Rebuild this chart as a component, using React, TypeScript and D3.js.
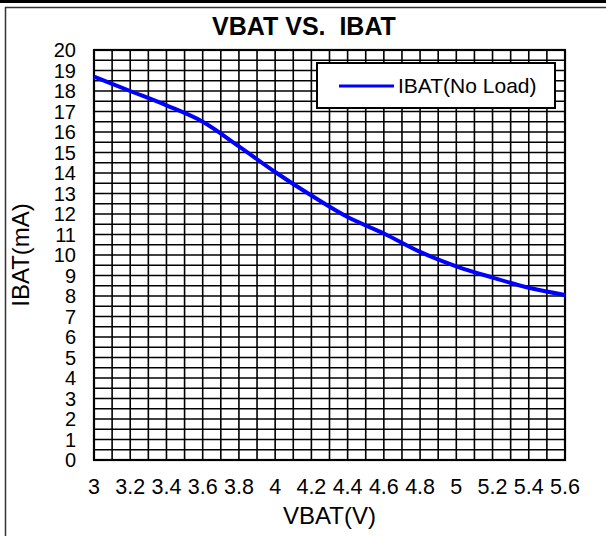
import React, { useRef, useEffect } from 'react';
import * as d3 from 'd3';

// VBAT (V) sample points
const vbat = [3.0, 3.2, 3.4, 3.6, 3.8, 4.0, 4.2, 4.4, 4.6, 4.8, 5.0, 5.2, 5.4, 5.6];
// IBAT (mA), no load
const ibat = [18.7, 18.0, 17.3, 16.5, 15.3, 14.05, 12.9, 11.85, 11.05, 10.15, 9.45, 8.9, 8.4, 8.05];

const xTickLabels = [3, 3.2, 3.4, 3.6, 3.8, 4, 4.2, 4.4, 4.6, 4.8, 5, 5.2, 5.4, 5.6];
const yTickLabels = [0, 1, 2, 3, 4, 5, 6, 7, 8, 9, 10, 11, 12, 13, 14, 15, 16, 17, 18, 19, 20];

const seriesName = "IBAT(No Load)";
const FONT = "'Liberation Sans', Arial, sans-serif";

const App: React.FC = () => {
  const svgRef = useRef<SVGSVGElement>(null);

  useEffect(() => {
    const svg = d3.select(svgRef.current);
    svg.selectAll("*").remove();

    const W = 606, H = 536;
    const plot = { left: 94, right: 565, top: 50, bottom: 460 };

    svg.append("rect").attr("width", W).attr("height", H).attr("fill", "white");

    // outer frame
    svg.append("rect").attr("x", 0).attr("y", 0).attr("width", W).attr("height", 3).attr("fill", "#000");
    svg.append("line").attr("x1", 5).attr("x2", W).attr("y1", 7.5).attr("y2", 7.5)
      .attr("stroke", "#333").attr("stroke-width", 1.5);
    svg.append("line").attr("x1", 5.5).attr("x2", 5.5).attr("y1", 7).attr("y2", H)
      .attr("stroke", "#333").attr("stroke-width", 1.5);

    const x = d3.scaleLinear().domain([3, 5.6]).range([plot.left, plot.right]);
    const y = d3.scaleLinear().domain([0, 20]).range([plot.bottom, plot.top]);

    // grid
    const grid = svg.append("g");
    grid.selectAll(".vg")
      .data(x.ticks(26))
      .enter().append("line")
      .attr("x1", d => x(d)).attr("x2", d => x(d))
      .attr("y1", plot.top).attr("y2", plot.bottom)
      .attr("stroke", "#000").attr("stroke-width", 1.6);
    grid.selectAll(".hg")
      .data(y.ticks(40))
      .enter().append("line")
      .attr("x1", plot.left).attr("x2", plot.right)
      .attr("y1", d => y(d)).attr("y2", d => y(d))
      .attr("stroke", "#000").attr("stroke-width", 1.6);

    // plot border
    svg.append("rect")
      .attr("x", plot.left).attr("y", plot.top)
      .attr("width", plot.right - plot.left).attr("height", plot.bottom - plot.top)
      .attr("fill", "none").attr("stroke", "#000").attr("stroke-width", 2.2);

    // tick labels
    svg.append("g").selectAll("text")
      .data(yTickLabels)
      .enter().append("text")
      .attr("x", 76)
      .attr("y", d => y(d))
      .attr("dy", "0.35em")
      .attr("text-anchor", "end")
      .style("font-family", FONT)
      .style("font-size", "20px")
      .style("fill", "#000")
      .text(d => d);

    svg.append("g").selectAll("text")
      .data(xTickLabels)
      .enter().append("text")
      .attr("x", d => x(d))
      .attr("y", 494)
      .attr("text-anchor", "middle")
      .style("font-family", FONT)
      .style("font-size", "21.5px")
      .style("fill", "#000")
      .text(d => d);

    // series
    const pts = vbat.map((v, i) => [v, ibat[i]] as [number, number]);
    const line = d3.line<[number, number]>()
      .x(d => x(d[0]))
      .y(d => y(d[1]))
      .curve(d3.curveMonotoneX);

    svg.append("path")
      .datum(pts)
      .attr("fill", "none")
      .attr("stroke", "#0000FF")
      .attr("stroke-width", 4)
      .attr("stroke-linejoin", "round")
      .attr("d", line);

    // legend
    const legend = svg.append("g").attr("transform", "translate(317,63)");
    legend.append("rect")
      .attr("width", 238).attr("height", 45)
      .attr("fill", "white").attr("stroke", "#000").attr("stroke-width", 2);
    legend.append("line")
      .attr("x1", 22).attr("x2", 77).attr("y1", 23).attr("y2", 23)
      .attr("stroke", "#0000FF").attr("stroke-width", 3);
    legend.append("text")
      .attr("x", 81).attr("y", 23).attr("dy", "0.35em")
      .style("font-family", FONT).style("font-size", "21px").style("fill", "#000")
      .text(seriesName);

    // titles
    svg.append("text")
      .attr("x", 304).attr("y", 35)
      .attr("text-anchor", "middle")
      .attr("xml:space", "preserve")
      .style("white-space", "pre")
      .style("font-family", FONT).style("font-size", "25px").style("font-weight", "bold")
      .text("VBAT VS.  IBAT");

    svg.append("text")
      .attr("x", (plot.left + plot.right) / 2).attr("y", 524)
      .attr("text-anchor", "middle")
      .style("font-family", FONT).style("font-size", "24px")
      .text("VBAT(V)");

    svg.append("text")
      .attr("transform", `translate(29, 255) rotate(-90)`)
      .attr("text-anchor", "middle")
      .style("font-family", FONT).style("font-size", "24px")
      .text("IBAT(mA)");
  }, []);

  return (
    <svg ref={svgRef} width="606" height="536"
      style={{ position: 'absolute', left: 0, top: 0, display: 'block' }}></svg>
  );
};

export default App;
